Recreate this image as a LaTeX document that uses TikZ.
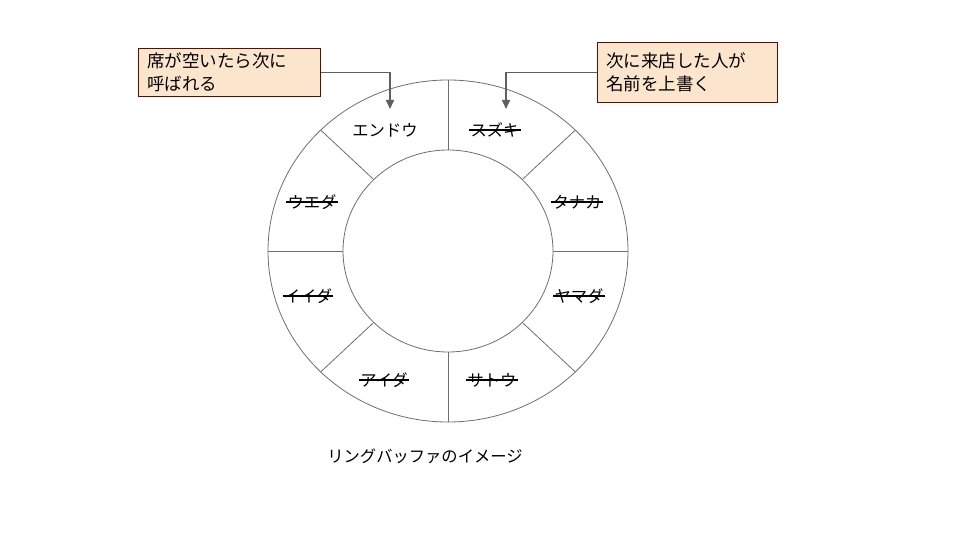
\documentclass[tikz,border=0pt]{standalone}
\usepackage{fontspec}
\setmainfont{Noto Sans CJK JP}
\usetikzlibrary{arrows.meta,calc}
\definecolor{notefill}{HTML}{FCE5CD}
\definecolor{notedraw}{HTML}{5B0F00}
\definecolor{ringline}{HTML}{6E6E6E}
\definecolor{arrowgray}{HTML}{5F5F5F}
\tikzset{
  ring/.style={draw=ringline, line width=0.8pt},
  pname/.style={inner sep=0pt, font=\fontsize{16.3}{19}\selectfont},
  strk/.style={draw=black, line width=1.1pt},
  note/.style={draw=notedraw, fill=notefill, line width=0.9pt, align=left, anchor=north west,
    inner xsep=9pt, inner ysep=0pt, font=\fontsize{17.5}{23}\selectfont},
  pointer/.style={draw=arrowgray, line width=1.6pt, -{Triangle[length=9pt,width=8pt]}},
}
\begin{document}
\begin{tikzpicture}[x=1pt,y=-1pt]
\useasboundingbox (0,0) rectangle (960,540);
% ring
\coordinate (c) at (448,251);
\draw[ring] (c) ellipse [x radius=180, y radius=171];
\draw[ring] (c) ellipse [x radius=105, y radius=101];
\foreach \a in {0,45,...,315}{
  \draw[ring] ($(c)+({105*cos(\a)},{101*sin(\a)})$) -- ($(c)+({180*cos(\a)},{171*sin(\a)})$);
}
% names
\node[pname] (endo) at (385,130) {エンドウ};
\node[pname] (suzuki) at (495,130) {スズキ};
\node[pname] (tanaka) at (577,202) {タナカ};
\node[pname] (yamada) at (579,296) {ヤマダ};
\node[pname] (sato) at (492,380) {サトウ};
\node[pname] (aida) at (384,380) {アイダ};
\node[pname] (iida) at (308,296) {イイダ};
\node[pname] (ueda) at (312,202) {ウエダ};
\foreach \n in {suzuki,tanaka,yamada,sato,aida,iida,ueda}{
  \draw[strk] ([xshift=-1pt]\n.west) -- ([xshift=1pt]\n.east);
}
% notes
\node[note, minimum width=182pt, minimum height=48pt, text width=164pt] (n1) at (138,48) {席が空いたら次に\\呼ばれる};
\node[note, minimum width=180pt, minimum height=60pt, text width=162pt] (n2) at (597,42) {次に来店した人が\\名前を上書く};
\coordinate (t1) at (390,109);
\coordinate (t2) at (506,109);
\draw[pointer] (n1.east) -| (t1);
\draw[pointer] (n2.west) -| (t2);
% caption
\node[font=\fontsize{16.3}{19}\selectfont] (cap) at (425,456) {リングバッファのイメージ};
\end{tikzpicture}
\end{document}
